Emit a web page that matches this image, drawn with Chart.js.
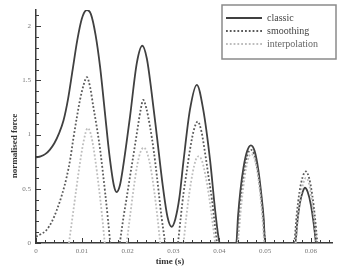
<!DOCTYPE html>
<html><head><meta charset="utf-8">
<script src="https://cdn.jsdelivr.net/npm/chart.js@4/dist/chart.umd.min.js"></script>
<style>html,body{margin:0;padding:0;background:#fff}#wrap{width:338px;height:274px}</style>
</head><body><div id="wrap"><canvas id="c"></canvas></div>
<script>
const seriesNames = ['classic','smoothing','interpolation'];
const xTickValues = [0,0.01,0.02,0.03,0.04,0.05,0.06];
const xTickLabels = ['0','0.01','0.02','0.03','0.04','0.05','0.06'];
const yTickValues = [0,0.5,1,1.5,2];
const yTickLabels = ['0','0.5','1','1.5','2'];
const xTitle = 'time (s)';
const yTitle = 'normalised force';

const classicT = [0,.001,.002,.003,.004,.005,.006,.007,.008,.009,.010,.0111,.012,.013,.014,.015,.016,.017,.0176,.0183,.019,.0205,.022,.0232,.0242,.0252,.0264,.0276,.0287,.0296,.0304,.0313,.0322,.0336,.0351,.0365,.0380,.0391,.0398,.0401,.0437,.0441,.0446,.0453,.0461,.0469,.0477,.0485,.0492,.0497,.0500,.0566,.0570,.0576,.0582,.0587,.0593,.0600,.0606,.0611];
const classicF = [0.79,0.80,0.82,0.86,0.92,1.01,1.13,1.33,1.60,1.87,2.07,2.15,2.11,1.92,1.62,1.22,0.82,0.53,0.47,0.53,0.70,1.16,1.66,1.82,1.70,1.40,0.98,0.55,0.24,0.15,0.22,0.42,0.76,1.23,1.46,1.23,0.76,0.30,0.06,0,0,0.25,0.48,0.70,0.85,0.90,0.85,0.68,0.44,0.22,0,0,0.18,0.37,0.47,0.51,0.47,0.35,0.18,0];

const smoothT = [0,.001,.0023,.0035,.0045,.0057,.0067,.0075,.0081,.0090,.0096,.0104,.0111,.0118,.0125,.0133,.0140,.0151,.0157,.0162,null,.0183,.0191,.0198,.0205,.0213,.0220,.0228,.0234,.0241,.0249,.0257,.0264,.0274,.0282,null,.0310,.0316,.0322,.0329,.0336,.0345,.0353,.0361,.0369,.0377,.0384,.0390,.0395,null,.0439,.0443,.0448,.0455,.0462,.0469,.0476,.0484,.0491,.0496,.0500,null,.0564,.0569,.0575,.0582,.0589,.0596,.0603,.0609,.0614];
const smoothF = [0.06,0.08,0.12,0.20,0.30,0.45,0.61,0.78,0.95,1.18,1.32,1.46,1.53,1.44,1.26,1.06,0.86,0.46,0.22,0,null,0,0.24,0.42,0.61,0.82,1.01,1.22,1.32,1.24,1.07,0.85,0.61,0.24,0,null,0,0.24,0.46,0.66,0.86,1.05,1.12,1.03,0.83,0.60,0.40,0.18,0,null,0,0.24,0.47,0.68,0.82,0.86,0.82,0.66,0.44,0.22,0,null,0,0.26,0.47,0.61,0.66,0.60,0.44,0.23,0];

const interpT = [.0072,.0080,.0088,.0096,.0104,.0113,.0121,.0129,.0137,.0144,.0150,null,.0198,.0205,.0213,.0221,.0228,.0235,.0242,.0250,.0258,.0265,.0271,null,.0322,.0328,.0335,.0342,.0349,.0355,.0362,.0370,.0378,.0385,.0391,null,.0441,.0446,.0452,.0459,.0465,.0470,.0476,.0483,.0489,.0494,.0498,null,.0567,.0572,.0578,.0584,.0589,.0595,.0601,.0607,.0612];
const interpF = [0,0.25,0.50,0.74,0.94,1.06,0.98,0.78,0.52,0.26,0,null,0,0.24,0.50,0.72,0.84,0.88,0.84,0.70,0.48,0.24,0,null,0,0.24,0.47,0.65,0.77,0.80,0.76,0.62,0.42,0.20,0,null,0,0.26,0.50,0.70,0.80,0.82,0.79,0.66,0.46,0.24,0,null,0,0.24,0.44,0.56,0.60,0.56,0.42,0.22,0];

function pts(T,F){return T.map((t,i)=> t===null ? {x:NaN,y:null} : {x:t,y:F[i]});}

const styles = [
  {color:'#404040', dash:[], width:1.8},
  {color:'#5a5a5a', dash:[1.8,2], width:1.8},
  {color:'#bdbdbd', dash:[1.8,2], width:1.8}
];

const axisColor = '#3a3a3a';
const serif = '"Liberation Serif", "DejaVu Serif", serif';

const ticksPlugin = {
  id:'ticksPlugin',
  afterDraw(chart){
    const ctx = chart.ctx, xs = chart.scales.x, ys = chart.scales.y;
    const ca = chart.chartArea;
    ctx.save();
    ctx.strokeStyle = axisColor; ctx.lineWidth = 1;
    ctx.beginPath();
    for(let k=0;k<=32;k++){
      const v = k*0.002; const px = Math.round(xs.getPixelForValue(v))+0.5;
      const len = (k%5===0)?5:3;
      ctx.moveTo(px, ca.bottom); ctx.lineTo(px, ca.bottom-len);
    }
    for(let k=0;k<=21;k++){
      const v = k*0.1; const py = Math.round(ys.getPixelForValue(v))+0.5;
      const len = (k%5===0)?5:3;
      ctx.moveTo(ca.left, py); ctx.lineTo(ca.left+len, py);
    }
    ctx.stroke();
    ctx.fillStyle = '#333';
    ctx.font = 'bold 9px ' + serif;
    ctx.textAlign = 'center'; ctx.textBaseline = 'middle';
    ctx.fillText(xTitle, 170, 262);
    ctx.translate(15, 146); ctx.rotate(-Math.PI/2);
    ctx.fillText(yTitle, 0, 0);
    ctx.restore();
    ctx.save();
    ctx.strokeStyle = '#8a8a8a'; ctx.lineWidth = 1.5;
    ctx.fillStyle = '#fff';
    ctx.fillRect(222,5,114,54);
    ctx.strokeRect(222,5,114,54);
    const ly = [18,31,44];
    ctx.font = '10px ' + serif;
    ctx.textAlign = 'left'; ctx.textBaseline = 'middle';
    seriesNames.forEach((n,i)=>{
      const s = styles[i];
      ctx.strokeStyle = s.color; ctx.lineWidth = s.width; ctx.setLineDash(s.dash);
      ctx.beginPath(); ctx.moveTo(226, ly[i]); ctx.lineTo(262, ly[i]); ctx.stroke();
      ctx.setLineDash([]);
      ctx.fillStyle = i===2 ? '#666' : '#444';
      ctx.fillText(n, 267, ly[i]);
    });
    ctx.restore();
  }
};

const datasets = [
  {label:seriesNames[0], data:pts(classicT,classicF)},
  {label:seriesNames[1], data:pts(smoothT,smoothF)},
  {label:seriesNames[2], data:pts(interpT,interpF)}
].map((d,i)=>Object.assign(d,{
  borderColor:styles[i].color, borderWidth:styles[i].width, borderDash:styles[i].dash,
  pointRadius:0, fill:false, cubicInterpolationMode:'monotone', spanGaps:false, order:3-i
}));

new Chart(document.getElementById('c'), {
  type:'line',
  data:{datasets},
  options:{
    responsive:true, maintainAspectRatio:false, animation:false,
    layout:{padding:{left:0,right:6,top:10,bottom:0}},
    plugins:{legend:{display:false}, tooltip:{enabled:false}},
    scales:{
      x:{type:'linear', min:0, max:0.0646,
        afterBuildTicks(s){ s.ticks = xTickValues.map(v=>({value:v})); },
        afterFit(s){ s.height = 31; },
        ticks:{callback:(v)=>{const i=xTickValues.findIndex(t=>Math.abs(t-v)<1e-9); return i>=0?xTickLabels[i]:'';},
          color:'#777', font:{family:serif,size:7}, padding:4, maxRotation:0, autoSkip:false},
        grid:{display:true, drawOnChartArea:false, drawTicks:false},
        border:{display:true, color:axisColor, width:1.5}
      },
      y:{type:'linear', min:0, max:2.15,
        afterBuildTicks(s){ s.ticks = yTickValues.map(v=>({value:v})); },
        afterFit(s){ s.width = 36; },
        ticks:{callback:(v)=>{const i=yTickValues.findIndex(t=>Math.abs(t-v)<1e-9); return i>=0?yTickLabels[i]:'';},
          color:'#777', font:{family:serif,size:7}, padding:5, autoSkip:false},
        grid:{display:true, drawOnChartArea:false, drawTicks:false},
        border:{display:true, color:axisColor, width:1.5}
      }
    }
  },
  plugins:[ticksPlugin]
});
</script></body></html>
